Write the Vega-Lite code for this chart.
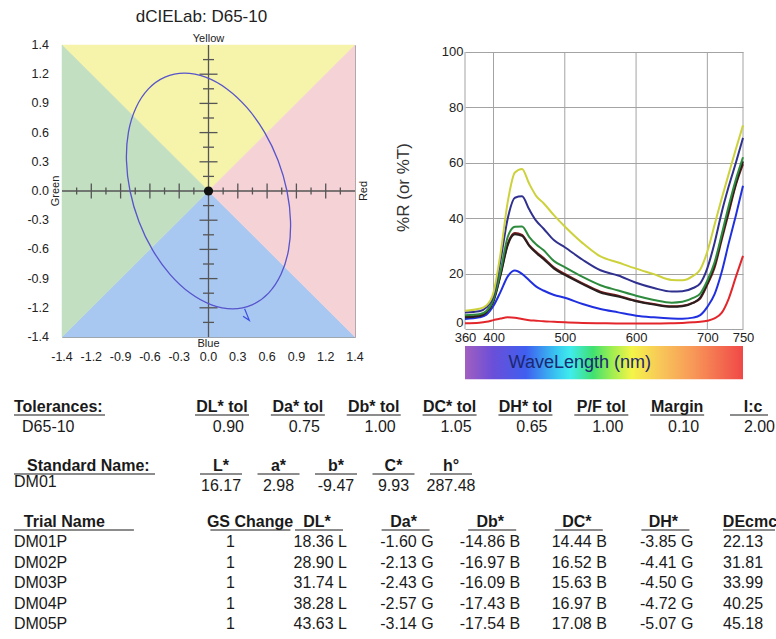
{
  "$schema": "https://vega.github.io/schema/vega-lite/v6.json",
  "padding": {"left": 12, "top": 7, "right": 0, "bottom": 0},
  "config": {
    "font": "Liberation Sans",
    "view": {"stroke": null},
    "axis": {"labelColor": "#222", "titleColor": "#333", "labelOverlap": false},
    "title": {"color": "#222", "fontWeight": "normal"},
    "text": {"color": "#1a1a1a"}
  },
  "bounds": "flush",
  "spacing": 110,
  "datasets": {
    "spectra": [
      {"wl": 360, "DM01": 2.1, "DM01P": 3.6, "DM02P": 4.5, "DMX": 4.2, "DM03P": 5, "DM04P": 6, "DM05P": 6.6},
      {"wl": 380, "DM01": 2.3, "DM01P": 4.2, "DM02P": 4.9, "DMX": 4.6, "DM03P": 5.3, "DM04P": 6.4, "DM05P": 7.3},
      {"wl": 390, "DM01": 2.6, "DM01P": 5.2, "DM02P": 6.2, "DMX": 5.9, "DM03P": 6.5, "DM04P": 7.8, "DM05P": 8.5},
      {"wl": 400, "DM01": 3.2, "DM01P": 8.4, "DM02P": 10.4, "DMX": 10, "DM03P": 10.8, "DM04P": 12, "DM05P": 13.2},
      {"wl": 410, "DM01": 3.8, "DM01P": 13.5, "DM02P": 20, "DMX": 19.5, "DM03P": 21, "DM04P": 25, "DM05P": 27.5},
      {"wl": 420, "DM01": 4.2, "DM01P": 19, "DM02P": 30.8, "DMX": 30.3, "DM03P": 33.3, "DM04P": 40, "DM05P": 46},
      {"wl": 430, "DM01": 4.1, "DM01P": 21.1, "DM02P": 34.7, "DMX": 34.2, "DM03P": 36.9, "DM04P": 47.4, "DM05P": 56.5},
      {"wl": 440, "DM01": 3.6, "DM01P": 19.9, "DM02P": 34, "DMX": 33.6, "DM03P": 37, "DM04P": 47.9, "DM05P": 57.8},
      {"wl": 450, "DM01": 3.2, "DM01P": 17.6, "DM02P": 30.3, "DMX": 30, "DM03P": 33.3, "DM04P": 43.2, "DM05P": 52.5},
      {"wl": 460, "DM01": 3, "DM01P": 15.3, "DM02P": 27.8, "DMX": 27.4, "DM03P": 30.5, "DM04P": 39, "DM05P": 48},
      {"wl": 470, "DM01": 2.8, "DM01P": 13.9, "DM02P": 25.7, "DMX": 25.3, "DM03P": 28.5, "DM04P": 36.3, "DM05P": 45.5},
      {"wl": 485, "DM01": 2.6, "DM01P": 12.3, "DM02P": 22.2, "DMX": 21.8, "DM03P": 24.5, "DM04P": 32, "DM05P": 41},
      {"wl": 500, "DM01": 2.4, "DM01P": 11.3, "DM02P": 19.9, "DMX": 19.5, "DM03P": 22.3, "DM04P": 29.5, "DM05P": 37},
      {"wl": 525, "DM01": 2.2, "DM01P": 9, "DM02P": 16.5, "DMX": 16.2, "DM03P": 18.8, "DM04P": 25, "DM05P": 31},
      {"wl": 550, "DM01": 2.1, "DM01P": 7.2, "DM02P": 13.5, "DMX": 13.2, "DM03P": 15.8, "DM04P": 21.2, "DM05P": 26.2},
      {"wl": 575, "DM01": 2, "DM01P": 6, "DM02P": 12, "DMX": 11.7, "DM03P": 13.9, "DM04P": 19.3, "DM05P": 24},
      {"wl": 600, "DM01": 2, "DM01P": 4.8, "DM02P": 10.2, "DMX": 10, "DM03P": 12, "DM04P": 16.7, "DM05P": 21.8},
      {"wl": 625, "DM01": 2, "DM01P": 4.2, "DM02P": 9, "DMX": 8.8, "DM03P": 10.5, "DM04P": 14.8, "DM05P": 19.8},
      {"wl": 650, "DM01": 2.1, "DM01P": 3.8, "DM02P": 8.2, "DMX": 8, "DM03P": 9.5, "DM04P": 13.5, "DM05P": 17.7},
      {"wl": 665, "DM01": 2.2, "DM01P": 3.7, "DM02P": 8.4, "DMX": 8.2, "DM03P": 9.8, "DM04P": 13.6, "DM05P": 17.6},
      {"wl": 680, "DM01": 2.4, "DM01P": 4.1, "DM02P": 9.5, "DMX": 9.4, "DM03P": 11.2, "DM04P": 14.8, "DM05P": 19.2},
      {"wl": 690, "DM01": 2.6, "DM01P": 5, "DM02P": 11, "DMX": 11.3, "DM03P": 12.8, "DM04P": 16.5, "DM05P": 21.5},
      {"wl": 700, "DM01": 3, "DM01P": 8, "DM02P": 16, "DMX": 16.5, "DM03P": 17.5, "DM04P": 22, "DM05P": 28},
      {"wl": 710, "DM01": 3.8, "DM01P": 12.5, "DM02P": 22, "DMX": 23, "DM03P": 24, "DM04P": 31, "DM05P": 37.5},
      {"wl": 720, "DM01": 5.8, "DM01P": 20.5, "DM02P": 32, "DMX": 33, "DM03P": 34, "DM04P": 42, "DM05P": 47},
      {"wl": 730, "DM01": 11, "DM01P": 31, "DM02P": 42, "DMX": 43, "DM03P": 44.5, "DM04P": 51.5, "DM05P": 56},
      {"wl": 740, "DM01": 18.8, "DM01P": 41, "DM02P": 52, "DMX": 52.5, "DM03P": 54, "DM04P": 60, "DM05P": 65},
      {"wl": 750, "DM01": 26.4, "DM01P": 51.7, "DM02P": 59.5, "DMX": 60.5, "DM03P": 62, "DM04P": 69, "DM05P": 73.5}
    ],
    "ellipse": [
      {"t": 0, "a": -0.23, "b": 1.13}, {"t": 15, "a": -0.028, "b": 1.0915}, {"t": 30, "a": 0.176, "b": 0.979},
      {"t": 45, "a": 0.368, "b": 0.799}, {"t": 60, "a": 0.535, "b": 0.565}, {"t": 75, "a": 0.665, "b": 0.292},
      {"t": 90, "a": 0.75, "b": 0}, {"t": 105, "a": 0.784, "b": -0.292}, {"t": 120, "a": 0.765, "b": -0.565},
      {"t": 135, "a": 0.693, "b": -0.799}, {"t": 150, "a": 0.574, "b": -0.979}, {"t": 165, "a": 0.416, "b": -1.0915},
      {"t": 180, "a": 0.23, "b": -1.13}, {"t": 195, "a": 0.028, "b": -1.0915}, {"t": 210, "a": -0.176, "b": -0.979},
      {"t": 225, "a": -0.368, "b": -0.799}, {"t": 240, "a": -0.535, "b": -0.565}, {"t": 255, "a": -0.665, "b": -0.292},
      {"t": 270, "a": -0.75, "b": 0}, {"t": 285, "a": -0.784, "b": 0.292}, {"t": 300, "a": -0.765, "b": 0.565},
      {"t": 315, "a": -0.693, "b": 0.799}, {"t": 330, "a": -0.574, "b": 0.979}, {"t": 345, "a": -0.416, "b": 1.0915}
    ],
    "ablab": [
      {"p": -1.4, "lab": "-1.4"}, {"p": -1.12, "lab": "-1.2"}, {"p": -0.84, "lab": "-0.9"}, {"p": -0.56, "lab": "-0.6"},
      {"p": -0.28, "lab": "-0.3"}, {"p": 0, "lab": "0.0"}, {"p": 0.28, "lab": "0.3"}, {"p": 0.56, "lab": "0.6"},
      {"p": 0.84, "lab": "0.9"}, {"p": 1.12, "lab": "1.2"}, {"p": 1.4, "lab": "1.4"}
    ],
    "tol": [
      {"r": 0, "t": "Tolerances:"}, {"r": 1, "t": "D65-10"},
      {"r": 0, "i": 1, "t": "DL* tol"}, {"r": 0, "i": 2, "t": "Da* tol"}, {"r": 0, "i": 3, "t": "Db* tol"}, {"r": 0, "i": 4, "t": "DC* tol"},
      {"r": 0, "i": 5, "t": "DH* tol"}, {"r": 0, "i": 6, "t": "P/F tol"}, {"r": 0, "i": 7, "t": "Margin"}, {"r": 0, "i": 8, "t": "I:c"},
      {"r": 1, "i": 1, "t": "0.90"}, {"r": 1, "i": 2, "t": "0.75"}, {"r": 1, "i": 3, "t": "1.00"}, {"r": 1, "i": 4, "t": "1.05"},
      {"r": 1, "i": 5, "t": "0.65"}, {"r": 1, "i": 6, "t": "1.00"}, {"r": 1, "i": 7, "t": "0.10"}, {"r": 1, "i": 8, "t": "2.00"}
    ],
    "std": [
      {"r": 0, "t": "Standard Name:"}, {"r": 1, "t": "DM01"},
      {"r": 0, "i": 1, "t": "L*"}, {"r": 0, "i": 2, "t": "a*"}, {"r": 0, "i": 3, "t": "b*"}, {"r": 0, "i": 4, "t": "C*"}, {"r": 0, "i": 5, "t": "h°"},
      {"r": 1, "i": 1, "t": "16.17"}, {"r": 1, "i": 2, "t": "2.98"}, {"r": 1, "i": 3, "t": "-9.47"}, {"r": 1, "i": 4, "t": "9.93"}, {"r": 1, "i": 5, "t": "287.48"}
    ],
    "trial": [
      {"r": 0, "t": "Trial Name"},
      {"r": 0, "i": -1, "t": "GS Change"}, {"r": 0, "i": 0, "t": "DL*"}, {"r": 0, "i": 1, "t": "Da*"}, {"r": 0, "i": 2, "t": "Db*"},
      {"r": 0, "i": 3, "t": "DC*"}, {"r": 0, "i": 4, "t": "DH*"}, {"r": 0, "i": 5, "t": "DEcmc"},
      {"r": 1, "t": "DM01P"}, {"r": 1, "i": -1, "t": "1"}, {"r": 1, "i": 0, "t": "18.36 L"}, {"r": 1, "i": 1, "t": "-1.60 G"}, {"r": 1, "i": 2, "t": "-14.86 B"}, {"r": 1, "i": 3, "t": "14.44 B"}, {"r": 1, "i": 4, "t": "-3.85 G"}, {"r": 1, "i": 5, "t": "22.13"},
      {"r": 2, "t": "DM02P"}, {"r": 2, "i": -1, "t": "1"}, {"r": 2, "i": 0, "t": "28.90 L"}, {"r": 2, "i": 1, "t": "-2.13 G"}, {"r": 2, "i": 2, "t": "-16.97 B"}, {"r": 2, "i": 3, "t": "16.52 B"}, {"r": 2, "i": 4, "t": "-4.41 G"}, {"r": 2, "i": 5, "t": "31.81"},
      {"r": 3, "t": "DM03P"}, {"r": 3, "i": -1, "t": "1"}, {"r": 3, "i": 0, "t": "31.74 L"}, {"r": 3, "i": 1, "t": "-2.43 G"}, {"r": 3, "i": 2, "t": "-16.09 B"}, {"r": 3, "i": 3, "t": "15.63 B"}, {"r": 3, "i": 4, "t": "-4.50 G"}, {"r": 3, "i": 5, "t": "33.99"},
      {"r": 4, "t": "DM04P"}, {"r": 4, "i": -1, "t": "1"}, {"r": 4, "i": 0, "t": "38.28 L"}, {"r": 4, "i": 1, "t": "-2.57 G"}, {"r": 4, "i": 2, "t": "-17.43 B"}, {"r": 4, "i": 3, "t": "16.97 B"}, {"r": 4, "i": 4, "t": "-4.72 G"}, {"r": 4, "i": 5, "t": "40.25"},
      {"r": 5, "t": "DM05P"}, {"r": 5, "i": -1, "t": "1"}, {"r": 5, "i": 0, "t": "43.63 L"}, {"r": 5, "i": 1, "t": "-3.14 G"}, {"r": 5, "i": 2, "t": "-17.54 B"}, {"r": 5, "i": 3, "t": "17.08 B"}, {"r": 5, "i": 4, "t": "-5.07 G"}, {"r": 5, "i": 5, "t": "45.18"}
    ]
  },
  "hconcat": [
    {
      "width": 293,
      "height": 292,
      "view": {"stroke": "#9a9a9a"},
      "title": {"text": "dCIELab: D65-10", "fontSize": 17, "frame": "group", "offset": 7, "dx": -7},
      "resolve": {"scale": {"x": "independent", "y": "independent"}, "axis": {"x": "independent", "y": "independent"}},
      "layer": [
        {
          "layer": [
            {
              "data": {"values": [{"a": -1.4, "b": 1.4}, {"a": 0, "b": 0}, {"a": 1.4, "b": 1.4}]},
              "mark": {"type": "area", "fill": "#f6f3aa", "stroke": "#f6f3aa", "strokeWidth": 0.5, "opacity": 1},
              "encoding": {
                "x": {"field": "a", "type": "quantitative", "scale": {"domain": [-1.4, 1.4], "nice": false, "zero": false}, "axis": null},
                "y": {"field": "b", "type": "quantitative", "scale": {"domain": [-1.4, 1.4], "nice": false, "zero": false}, "axis": null},
                "y2": {"datum": 1.4}
              }
            },
            {
              "data": {"values": [{"a": -1.4, "b": -1.4}, {"a": 0, "b": 0}, {"a": 1.4, "b": -1.4}]},
              "mark": {"type": "area", "fill": "#a8c8f2", "stroke": "#a8c8f2", "strokeWidth": 0.5, "opacity": 1},
              "encoding": {"x": {"field": "a", "type": "quantitative"}, "y": {"field": "b", "type": "quantitative"}, "y2": {"datum": -1.4}}
            },
            {
              "data": {"values": [{"a": -1.4, "b": -1.4}, {"a": 0, "b": 0}, {"a": -1.4, "b": 1.4}]},
              "mark": {"type": "area", "orient": "horizontal", "fill": "#c3dfc1", "stroke": "#c3dfc1", "strokeWidth": 0.5, "opacity": 1},
              "encoding": {"x": {"field": "a", "type": "quantitative"}, "y": {"field": "b", "type": "quantitative"}, "x2": {"datum": -1.4}}
            },
            {
              "data": {"values": [{"a": 1.4, "b": -1.4}, {"a": 0, "b": 0}, {"a": 1.4, "b": 1.4}]},
              "mark": {"type": "area", "orient": "horizontal", "fill": "#f5d2d6", "stroke": "#f5d2d6", "strokeWidth": 0.5, "opacity": 1},
              "encoding": {"x": {"field": "a", "type": "quantitative"}, "y": {"field": "b", "type": "quantitative"}, "x2": {"datum": 1.4}}
            },
            {
              "data": {"values": [{}]},
              "mark": {"type": "rule", "color": "#555", "strokeWidth": 1.3},
              "encoding": {"y": {"datum": 0}}
            },
            {
              "data": {"values": [{}]},
              "mark": {"type": "rule", "color": "#555", "strokeWidth": 1.3},
              "encoding": {"x": {"datum": 0}}
            },
            {
              "data": {"values": [{"p": -1.12}, {"p": -0.84}, {"p": -0.56}, {"p": -0.28}, {"p": 0.28}, {"p": 0.56}, {"p": 0.84}, {"p": 1.12}]},
              "mark": {"type": "tick", "orient": "vertical", "size": 15, "thickness": 1.3, "color": "#555", "opacity": 1},
              "encoding": {"x": {"field": "p", "type": "quantitative"}, "y": {"datum": 0}}
            },
            {
              "data": {"values": [{"p": -1.26}, {"p": -0.98}, {"p": -0.7}, {"p": -0.42}, {"p": -0.14}, {"p": 0.14}, {"p": 0.42}, {"p": 0.7}, {"p": 0.98}, {"p": 1.26}]},
              "mark": {"type": "tick", "orient": "vertical", "size": 7, "thickness": 1.3, "color": "#555", "opacity": 1},
              "encoding": {"x": {"field": "p", "type": "quantitative"}, "y": {"datum": 0}}
            },
            {
              "data": {"values": [{"p": -1.12}, {"p": -0.84}, {"p": -0.56}, {"p": -0.28}, {"p": 0.28}, {"p": 0.56}, {"p": 0.84}, {"p": 1.12}]},
              "mark": {"type": "tick", "orient": "horizontal", "size": 18, "thickness": 1.3, "color": "#555", "opacity": 1},
              "encoding": {"y": {"field": "p", "type": "quantitative"}, "x": {"datum": 0}}
            },
            {
              "data": {"values": [{"p": -1.26}, {"p": -0.98}, {"p": -0.7}, {"p": -0.42}, {"p": -0.14}, {"p": 0.14}, {"p": 0.42}, {"p": 0.7}, {"p": 0.98}, {"p": 1.26}]},
              "mark": {"type": "tick", "orient": "horizontal", "size": 11, "thickness": 1.3, "color": "#555", "opacity": 1},
              "encoding": {"y": {"field": "p", "type": "quantitative"}, "x": {"datum": 0}}
            },
            {
              "data": {"name": "ellipse"},
              "mark": {"type": "line", "interpolate": "cardinal-closed", "color": "#5754cc", "strokeWidth": 1.3},
              "encoding": {"x": {"field": "a", "type": "quantitative"}, "y": {"field": "b", "type": "quantitative"}, "order": {"field": "t"}}
            },
            {
              "data": {"values": [{"k": 1, "a": 0.33, "b": -1.2}, {"k": 2, "a": 0.39, "b": -1.24}, {"k": 3, "a": 0.345, "b": -1.13}]},
              "mark": {"type": "line", "color": "#3d4ee0", "strokeWidth": 1.2},
              "encoding": {"x": {"field": "a", "type": "quantitative"}, "y": {"field": "b", "type": "quantitative"}, "order": {"field": "k"}}
            },
            {
              "data": {"values": [{}]},
              "mark": {"type": "point", "filled": true, "color": "#111", "size": 85, "opacity": 1},
              "encoding": {"x": {"datum": 0}, "y": {"datum": 0}}
            },
            {
              "data": {"name": "ablab"},
              "mark": {"type": "text", "baseline": "top", "dy": 14, "fontSize": 12.5, "color": "#222"},
              "encoding": {"x": {"field": "p", "type": "quantitative"}, "y": {"datum": -1.4}, "text": {"field": "lab"}}
            },
            {
              "data": {"name": "ablab"},
              "mark": {"type": "text", "align": "right", "baseline": "middle", "dx": -13, "fontSize": 12.5, "color": "#222"},
              "encoding": {"y": {"field": "p", "type": "quantitative"}, "x": {"datum": -1.4}, "text": {"field": "lab"}}
            },
            {
              "data": {"values": [{"t": "Yellow"}]},
              "mark": {"type": "text", "baseline": "bottom", "dy": -1, "fontSize": 11, "color": "#222"},
              "encoding": {"x": {"datum": 0}, "y": {"datum": 1.4}, "text": {"field": "t"}}
            },
            {
              "data": {"values": [{"t": "Blue"}]},
              "mark": {"type": "text", "baseline": "top", "dy": 1, "fontSize": 11, "color": "#222"},
              "encoding": {"x": {"datum": 0}, "y": {"datum": -1.4}, "text": {"field": "t"}}
            },
            {
              "data": {"values": [{"t": "Green"}]},
              "mark": {"type": "text", "baseline": "bottom", "angle": 270, "dy": -1, "fontSize": 11, "color": "#222"},
              "encoding": {"x": {"datum": -1.4}, "y": {"datum": 0}, "text": {"field": "t"}}
            },
            {
              "data": {"values": [{"t": "Red"}]},
              "mark": {"type": "text", "baseline": "top", "angle": 270, "dy": 3, "fontSize": 11, "color": "#222"},
              "encoding": {"x": {"datum": 1.4}, "y": {"datum": 0}, "text": {"field": "t"}}
            }
          ]
        },
        {
          "data": {"name": "tol"},
          "encoding": {"y": {"field": "r", "type": "quantitative", "scale": {"domain": [-18.1, -3.5], "reverse": true, "nice": false, "zero": false}, "axis": null}},
          "layer": [
            {
              "transform": [{"filter": "datum.r == 0 && isValid(datum.i)"}],
              "mark": {"type": "text", "align": "center", "dx": -22, "fontSize": 16, "fontWeight": "bold"},
              "encoding": {"x": {"field": "i", "type": "quantitative", "scale": {"domain": [-1.3992, 2.4632], "nice": false, "zero": false}, "axis": null}, "text": {"field": "t"}}
            },
            {
              "transform": [{"filter": "datum.r == 1 && isValid(datum.i)"}],
              "mark": {"type": "text", "align": "right", "fontSize": 16},
              "encoding": {"x": {"field": "i", "type": "quantitative"}, "text": {"field": "t"}}
            },
            {
              "transform": [{"filter": "datum.r == 0 && !isValid(datum.i)"}],
              "mark": {"type": "text", "align": "left", "fontSize": 16, "fontWeight": "bold"},
              "encoding": {"x": {"datum": -2.032}, "text": {"field": "t"}}
            },
            {
              "transform": [{"filter": "datum.r == 1 && !isValid(datum.i)"}],
              "mark": {"type": "text", "align": "left", "fontSize": 16},
              "encoding": {"x": {"datum": -1.926}, "text": {"field": "t"}}
            },
            {
              "transform": [{"filter": "datum.r == 0 && isValid(datum.i) && datum.i < 8"}],
              "mark": {"type": "rule", "color": "#1a1a1a", "strokeWidth": 1.2, "xOffset": -49, "x2Offset": 5, "yOffset": 8},
              "encoding": {"x": {"field": "i", "type": "quantitative"}, "x2": {"field": "i"}}
            },
            {
              "transform": [{"filter": "datum.r == 0 && datum.i == 8"}],
              "mark": {"type": "rule", "color": "#1a1a1a", "strokeWidth": 1.2, "xOffset": -45, "x2Offset": -7, "yOffset": 8},
              "encoding": {"x": {"field": "i", "type": "quantitative"}, "x2": {"field": "i"}}
            },
            {
              "transform": [{"filter": "datum.r == 0 && !isValid(datum.i)"}],
              "mark": {"type": "rule", "color": "#1a1a1a", "strokeWidth": 1.2, "x2Offset": 91, "yOffset": 8},
              "encoding": {"x": {"datum": -2.032}, "x2": {"datum": -2.032}}
            }
          ]
        },
        {
          "data": {"name": "std"},
          "encoding": {"y": {"field": "r", "type": "quantitative", "scale": {"domain": [-21.05, -6.45], "reverse": true, "nice": false, "zero": false}, "axis": null}},
          "layer": [
            {
              "transform": [{"filter": "datum.r == 0 && isValid(datum.i)"}],
              "mark": {"type": "text", "align": "center", "fontSize": 16, "fontWeight": "bold"},
              "encoding": {"x": {"field": "i", "type": "quantitative", "scale": {"domain": [-1.7652, 3.3304], "nice": false, "zero": false}, "axis": null}, "text": {"field": "t"}}
            },
            {
              "transform": [{"filter": "datum.r == 1 && isValid(datum.i)"}],
              "mark": {"type": "text", "align": "center", "fontSize": 16},
              "encoding": {"x": {"field": "i", "type": "quantitative"}, "text": {"field": "t"}}
            },
            {
              "transform": [{"filter": "datum.r == 0 && !isValid(datum.i)"}],
              "mark": {"type": "text", "align": "left", "fontSize": 16, "fontWeight": "bold"},
              "encoding": {"x": {"datum": -2.374}, "text": {"field": "t"}}
            },
            {
              "transform": [{"filter": "datum.r == 1 && !isValid(datum.i)"}],
              "mark": {"type": "text", "align": "left", "fontSize": 16, "dy": -4},
              "encoding": {"x": {"datum": -2.6}, "text": {"field": "t"}}
            },
            {
              "transform": [{"filter": "datum.r == 0 && isValid(datum.i)"}],
              "mark": {"type": "rule", "color": "#1a1a1a", "strokeWidth": 1.2, "xOffset": -21, "x2Offset": 21, "yOffset": 8},
              "encoding": {"x": {"field": "i", "type": "quantitative"}, "x2": {"field": "i"}}
            },
            {
              "transform": [{"filter": "datum.r == 0 && !isValid(datum.i)"}],
              "mark": {"type": "rule", "color": "#1a1a1a", "strokeWidth": 1.2, "x2Offset": 141, "yOffset": 8},
              "encoding": {"x": {"datum": -2.6}, "x2": {"datum": -2.6}}
            }
          ]
        },
        {
          "data": {"name": "trial"},
          "encoding": {"y": {"field": "r", "type": "quantitative", "scale": {"domain": [-23.268, -9.024], "reverse": true, "nice": false, "zero": false}, "axis": null}},
          "layer": [
            {
              "transform": [{"filter": "datum.r == 0 && datum.i == -1"}],
              "mark": {"type": "text", "align": "center", "dx": 19.6, "fontSize": 16, "fontWeight": "bold"},
              "encoding": {"x": {"field": "i", "type": "quantitative", "scale": {"domain": [-2.9446, 0.4388], "nice": false, "zero": false}, "axis": null}, "text": {"field": "t"}}
            },
            {
              "transform": [{"filter": "datum.r == 0 && datum.i >= 0"}],
              "mark": {"type": "text", "align": "center", "fontSize": 16, "fontWeight": "bold"},
              "encoding": {"x": {"field": "i", "type": "quantitative"}, "text": {"field": "t"}}
            },
            {
              "transform": [{"filter": "datum.r > 0 && datum.i == -1"}],
              "mark": {"type": "text", "align": "center", "fontSize": 16},
              "encoding": {"x": {"field": "i", "type": "quantitative"}, "text": {"field": "t"}}
            },
            {
              "transform": [{"filter": "datum.r > 0 && datum.i >= 0 && datum.i <= 4"}],
              "mark": {"type": "text", "align": "right", "dx": 30, "fontSize": 16},
              "encoding": {"x": {"field": "i", "type": "quantitative"}, "text": {"field": "t"}}
            },
            {
              "transform": [{"filter": "datum.r > 0 && datum.i == 5"}],
              "mark": {"type": "text", "align": "left", "dx": -27, "fontSize": 16},
              "encoding": {"x": {"field": "i", "type": "quantitative"}, "text": {"field": "t"}}
            },
            {
              "transform": [{"filter": "datum.r == 0 && !isValid(datum.i)"}],
              "mark": {"type": "text", "align": "left", "fontSize": 16, "fontWeight": "bold"},
              "encoding": {"x": {"datum": -3.385}, "text": {"field": "t"}}
            },
            {
              "transform": [{"filter": "datum.r > 0 && !isValid(datum.i)"}],
              "mark": {"type": "text", "align": "left", "fontSize": 16},
              "encoding": {"x": {"datum": -3.5}, "text": {"field": "t"}}
            },
            {
              "transform": [{"filter": "datum.r == 0 && datum.i == -1"}],
              "mark": {"type": "rule", "color": "#1a1a1a", "strokeWidth": 1.2, "xOffset": -20, "x2Offset": 60, "yOffset": 8},
              "encoding": {"x": {"field": "i", "type": "quantitative"}, "x2": {"field": "i"}}
            },
            {
              "transform": [{"filter": "datum.r == 0 && datum.i >= 0 && datum.i <= 4"}],
              "mark": {"type": "rule", "color": "#1a1a1a", "strokeWidth": 1.2, "xOffset": -22, "x2Offset": 26, "yOffset": 8},
              "encoding": {"x": {"field": "i", "type": "quantitative"}, "x2": {"field": "i"}}
            },
            {
              "transform": [{"filter": "datum.r == 0 && datum.i == 5"}],
              "mark": {"type": "rule", "color": "#1a1a1a", "strokeWidth": 1.2, "xOffset": -27, "x2Offset": 25, "yOffset": 8},
              "encoding": {"x": {"field": "i", "type": "quantitative"}, "x2": {"field": "i"}}
            },
            {
              "transform": [{"filter": "datum.r == 0 && !isValid(datum.i)"}],
              "mark": {"type": "rule", "color": "#1a1a1a", "strokeWidth": 1.2, "x2Offset": 120, "yOffset": 8},
              "encoding": {"x": {"datum": -3.5}, "x2": {"datum": -3.5}}
            }
          ]
        }
      ]
    },
    {
      "width": 278,
      "height": 284,
      "layer": [
        {
          "data": {"values": [{"wl": 360}, {"wl": 400}, {"wl": 500}, {"wl": 600}, {"wl": 700}, {"wl": 750}]},
          "mark": {"type": "rule", "color": "#a3a3a3", "strokeWidth": 1},
          "encoding": {"x": {"field": "wl", "type": "quantitative"}, "y": {"datum": 0}, "y2": {"datum": 100}}
        },
        {
          "data": {"name": "spectra"},
          "transform": [{"fold": ["DM01", "DM01P", "DM02P", "DMX", "DM03P", "DM04P", "DM05P"], "as": ["sample", "R"]}],
          "mark": {"type": "line", "interpolate": "monotone", "strokeWidth": 2},
          "encoding": {
            "x": {"field": "wl", "type": "quantitative", "scale": {"domain": [360, 750], "nice": false, "zero": false},
              "axis": {"values": [360, 400, 500, 600, 700, 750], "grid": false, "ticks": false, "domain": false,
                "labelPadding": 2, "labelFontSize": 13, "labelFlush": false, "labelOverlap": false, "title": null}},
            "y": {"field": "R", "type": "quantitative", "scale": {"domain": [0, 102.527], "nice": false, "zero": false},
              "axis": {"values": [0, 20, 40, 60, 80, 100], "grid": true, "gridColor": "#a3a3a3", "ticks": false, "domain": false,
                "labelBaseline": {"condition": {"test": "datum.value == 0", "value": "bottom"}, "value": "middle"},
                "labelPadding": 2, "labelFontSize": 13, "title": "%R (or %T)", "titleFontSize": 17, "titleFontWeight": "normal", "titlePadding": 29}},
            "color": {"field": "sample", "type": "nominal", "legend": null,
              "scale": {"domain": ["DM01", "DM01P", "DM02P", "DMX", "DM03P", "DM04P", "DM05P"],
                "range": ["#e3262b", "#2030e0", "#7b1c1c", "#2a1f1f", "#2e8b3d", "#30308f", "#cdd23c"]}}
          }
        },
        {
          "data": {"values": [{}]},
          "mark": {"type": "rect", "fill": {"gradient": "linear", "x1": 0, "y1": 0, "x2": 1, "y2": 0,
            "stops": [
              {"offset": 0, "color": "#a25fc0"},
              {"offset": 0.1, "color": "#6a4fd8"},
              {"offset": 0.22, "color": "#3f5ff0"},
              {"offset": 0.33, "color": "#38c8f0"},
              {"offset": 0.38, "color": "#40ecec"},
              {"offset": 0.46, "color": "#40e070"},
              {"offset": 0.53, "color": "#a0ee50"},
              {"offset": 0.6, "color": "#f4f448"},
              {"offset": 0.7, "color": "#f8c858"},
              {"offset": 0.82, "color": "#f89858"},
              {"offset": 1, "color": "#f04848"}
            ]}},
          "encoding": {"x": {"datum": 360}, "x2": {"datum": 750}, "y": {"datum": -6.1}, "y2": {"datum": -18.1}}
        },
        {
          "data": {"values": [{"t": "WaveLength (nm)"}]},
          "mark": {"type": "text", "fontSize": 18, "color": "#1c2770"},
          "encoding": {"x": {"datum": 521}, "y": {"datum": -12.1}, "text": {"field": "t"}}
        }
      ]
    }
  ]
}
